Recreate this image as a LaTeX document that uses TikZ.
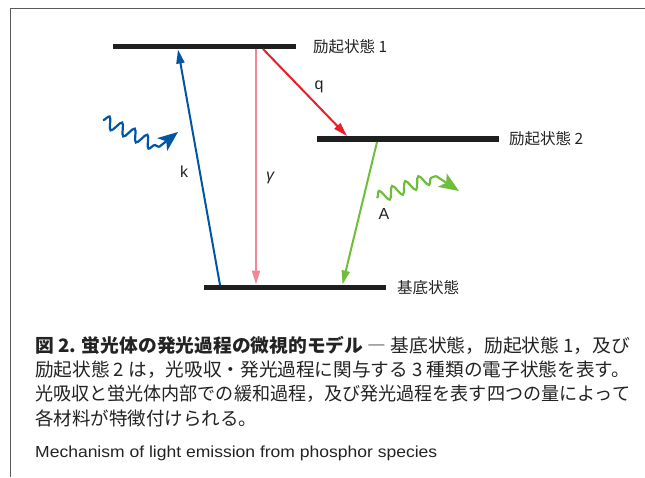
\documentclass[tikz,border=0pt]{standalone}
\usepackage{fontspec}
\usepackage{graphicx}
\usetikzlibrary{arrows.meta,decorations.pathmorphing}
\setmainfont{Liberation Sans}
\newfontfamily\jp{Noto Sans CJK JP}
\definecolor{kblue}{RGB}{0,85,165}
\definecolor{qred}{RGB}{232,30,40}
\definecolor{gpink}{RGB}{240,135,155}
\definecolor{agreen}{RGB}{110,190,60}
\definecolor{framegray}{RGB}{90,90,90}
\definecolor{txt}{RGB}{35,35,35}
\tikzset{
  level/.style={line width=5.5pt, black!88},
  trans/.style={line width=2pt, -{Triangle[length=14pt,width=8pt]}},
  wavetail/.style={line width=2.2pt, decorate, decoration={snake,segment length=14pt,amplitude=6pt}},
  wavehead/.style={line width=2.2pt, -{Stealth[length=20pt,width=16pt,inset=5pt]}},
  statelab/.style={anchor=west, inner sep=0pt, text=txt, font=\jp\fontsize{15.5}{15.5}\selectfont},
  ratelab/.style={inner sep=0pt, text=txt, font=\fontsize{16}{16}\selectfont},
  capline/.style={anchor=west, inner sep=0pt, text=txt, font=\jp\fontsize{18.5}{18.5}\selectfont},
}
\begin{document}
\begin{tikzpicture}[x=1pt,y=-1pt]
\useasboundingbox (0,0) rectangle (645,477);
% frame
\coordinate (fTR) at (645,8.5);
\coordinate (fTL) at (10.5,8.5);
\coordinate (fBL) at (10.5,477);
\draw[framegray, line width=1.5pt] (fTR) -- (fTL) -- (fBL);
% levels
\coordinate (e1L) at (113,46.5); \coordinate (e1R) at (296,46.5);
\coordinate (e2L) at (317,139); \coordinate (e2R) at (499,139);
\coordinate (gL) at (204,287.5); \coordinate (gR) at (386,287.5);
\draw[level] (e1L) -- (e1R);
\draw[level] (e2L) -- (e2R);
\draw[level] (gL) -- (gR);
\node[statelab] (e1lab) at (313,46.5) {励起状態 1};
\node[statelab] (e2lab) at (509,138.5) {励起状態 2};
\node[statelab] (glab) at (397,288) {基底状態};
% transitions
\coordinate (kS) at (220,285); \coordinate (kT) at (178,49.5);
\coordinate (pS) at (256,49); \coordinate (pT) at (256,284.5);
\coordinate (qS) at (263,49); \coordinate (qT) at (347,136);
\coordinate (aS) at (377,142); \coordinate (aT) at (342.5,284.5);
\draw[trans, kblue] (kS) -- (kT);
\draw[trans, gpink] (pS) -- (pT);
\draw[trans, qred] (qS) -- (qT);
\draw[trans, agreen] (aS) -- (aT);
\node[ratelab] (klab) at (184,172) {k};
\node[ratelab] (glab2) at (270,178) {\itshape γ};
\node[ratelab] (qlab) at (319,87) {q};
\node[ratelab] (alab) at (384,214) {A};
% photons
\coordinate (wb1) at (103,120); \coordinate (wb2) at (159,147); \coordinate (wb3) at (178,132);
\draw[wavetail, kblue] (wb1) -- (wb2);
\draw[wavehead, kblue] (wb2) -- (wb3);
\coordinate (wg1) at (377,198); \coordinate (wg2) at (436,176); \coordinate (wg3) at (459,191);
\draw[wavetail, agreen] (wg1) -- (wg2);
\draw[wavehead, agreen] (wg2) -- (wg3);
% caption
\node[capline] (c1) at (35,345) {\resizebox{595pt}{\height}{{\bfseries 図 2. 蛍光体の発光過程の微視的モデル} ― 基底状態，励起状態 1，及び}};
\node[capline] (c2) at (35,370) {\resizebox{595pt}{\height}{励起状態 2 は，光吸収・発光過程に関与する 3 種類の電子状態を表す。}};
\node[capline] (c3) at (35,394) {\resizebox{595pt}{\height}{光吸収と蛍光体内部での緩和過程，及び発光過程を表す四つの量によって}};
\node[capline] (c4) at (35,418) {各材料が特徴付けられる。};
\node[anchor=west, inner sep=0pt, text=txt] (en) at (35,453) {\resizebox{402pt}{\height}{\fontsize{16}{16}\selectfont Mechanism of light emission from phosphor species}};
\end{tikzpicture}
\end{document}
